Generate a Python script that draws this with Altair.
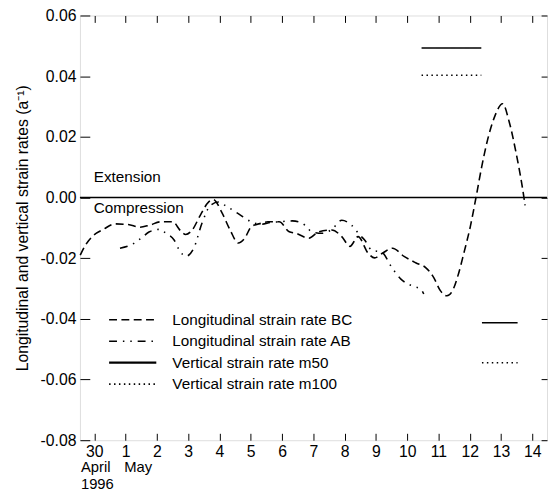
import altair as alt
import pandas as pd

# ---------------- data ----------------
series_names = [
    "Longitudinal strain rate BC",
    "Longitudinal strain rate AB",
    "Vertical strain rate m50",
    "Vertical strain rate m100",
]

# days after 30 April 1996 (0 = 30 April, 1 = 1 May, ...)
bc_day = [-0.45, -0.30, -0.05, 0.29, 0.66, 1.08, 1.45, 1.77, 2.13, 2.50, 2.76, 2.92,
          3.13, 3.39, 3.65, 3.81, 4.07, 4.34, 4.60, 4.81, 5.02, 5.33, 5.55, 5.91,
          6.23, 6.44, 6.86, 7.17, 7.59, 7.91, 8.17, 8.43, 8.75, 8.96, 9.22, 9.53,
          9.90, 10.27, 10.59, 10.85, 11.06, 11.27, 11.45, 11.63, 11.82, 12.02,
          12.20, 12.38, 12.57, 12.79, 13.05, 13.26, 13.47, 13.68, 13.77]
bc_val = [-0.0190, -0.0160, -0.0127, -0.0105, -0.0087, -0.0089, -0.0098, -0.0091,
          -0.0080, -0.0080, -0.0110, -0.0122, -0.0107, -0.0058, -0.0015, -0.0007,
          -0.0048, -0.0107, -0.0150, -0.0134, -0.0096, -0.0085, -0.0080, -0.0080,
          -0.0113, -0.0118, -0.0134, -0.0113, -0.0107, -0.0129, -0.0161, -0.0129,
          -0.0183, -0.0199, -0.0183, -0.0167, -0.0194, -0.0215, -0.0231, -0.0264,
          -0.0307, -0.0324, -0.0307, -0.0255, -0.0180, -0.0095, 0.0000, 0.0100,
          0.0190, 0.0265, 0.0309, 0.0250, 0.0153, 0.0035, -0.0026]

ab_day = [0.82, 1.18, 1.50, 1.76, 2.08, 2.29, 2.55, 2.71, 2.92, 3.18, 3.44, 3.71,
          3.97, 4.18, 4.60, 5.02, 5.33, 5.65, 5.91, 6.33, 6.65, 6.96, 7.28, 7.59,
          7.91, 8.22, 8.48, 8.64, 8.85, 9.21, 9.48, 9.80, 10.15, 10.43, 10.53]
ab_val = [-0.0167, -0.0156, -0.0134, -0.0113, -0.0105, -0.0118, -0.0140, -0.0172,
          -0.0194, -0.0167, -0.0085, -0.0026, -0.0015, -0.0026, -0.0053, -0.0080,
          -0.0088, -0.0082, -0.0080, -0.0077, -0.0085, -0.0113, -0.0118, -0.0105,
          -0.0075, -0.0091, -0.0123, -0.0140, -0.0172, -0.0182, -0.0226, -0.0269,
          -0.0291, -0.0302, -0.0318]

m50_day = [10.46, 12.37, 12.39, 13.53]
m50_val = [0.0493, 0.0493, -0.0413, -0.0413]
m50_seg = [1, 1, 2, 2]

m100_day = [10.46, 12.37, 12.39, 13.53]
m100_val = [0.0403, 0.0403, -0.0545, -0.0545]
m100_seg = [1, 1, 2, 2]

day_ticks = [0, 1, 2, 3, 4, 5, 6, 7, 8, 9, 10, 11, 12, 13, 14]
y_ticks = [-0.08, -0.07, -0.06, -0.05, -0.04, -0.03, -0.02, -0.01, 0.0,
           0.01, 0.02, 0.03, 0.04, 0.05, 0.06]

# ---------------- table ----------------
rows = []
for d, v in zip(bc_day, bc_val):
    rows.append({"series": series_names[0], "seg": "bc", "day": d, "value": v})
for d, v in zip(ab_day, ab_val):
    rows.append({"series": series_names[1], "seg": "ab", "day": d, "value": v})
for d, v, s in zip(m50_day, m50_val, m50_seg):
    rows.append({"series": series_names[2], "seg": f"m50_{s}", "day": d, "value": v})
for d, v, s in zip(m100_day, m100_val, m100_seg):
    rows.append({"series": series_names[3], "seg": f"m100_{s}", "day": d, "value": v})
df = pd.DataFrame(rows)

# ---------------- styling ----------------
W, H = 474, 431
FONT = "Liberation Sans"
dash_range = [[8, 4.5], [8, 6, 1.5, 6, 1.5, 6], [1, 0], [1.5, 3.5]]
width_range = [1.6, 1.5, 2.2, 1.8]

odd_test = "abs(round(datum.value*100)) % 2 == 1"

x_axis = alt.Axis(
    values=day_ticks, ticks=False, tickSize=0, domain=False,
    labelExpr="datum.value == 0 ? '30' : datum.label",
    labelFont=FONT, labelFontSize=16, labelColor="black", labelPadding=4,
    labelFlush=False,
    grid=True, gridColor="black", gridOpacity=1, gridWidth=1,
    gridDash=[7, H - 14, 7, 3000],
    title=None,
)

y_axis = alt.Axis(
    values=y_ticks, ticks=False, tickSize=0, domain=False,
    labelExpr=f"{odd_test} ? '' : replace(format(datum.value, '.2f'), '\u2212', '-')",
    labelFont=FONT, labelFontSize=16, labelColor="black", labelPadding=4,
    grid=True, gridColor="black", gridOpacity=1, gridWidth=1,
    gridDash={"condition": {"test": odd_test, "value": [5, W - 11, 6, 3000]},
              "value": [10, W - 16, 6, 3000]},
    title="Longitudinal and vertical strain rates (a\u207b\u00b9)",
    titleFont=FONT, titleFontSize=16, titleFontWeight="normal", titleColor="black",
    titleX=-50, titleY=H / 2,
)

lines = alt.Chart(df).mark_line(interpolate="monotone", color="black").encode(
    x=alt.X("day:Q", scale=alt.Scale(domain=[-0.46, 14.47], nice=False, zero=False), axis=x_axis),
    y=alt.Y("value:Q", scale=alt.Scale(domain=[-0.08, 0.06], nice=False, zero=False), axis=y_axis),
    strokeDash=alt.StrokeDash("series:N", scale=alt.Scale(domain=series_names, range=dash_range), legend=None),
    strokeWidth=alt.StrokeWidth("series:N", scale=alt.Scale(domain=series_names, range=width_range), legend=None),
    detail="seg:N",
)

zero_rule = alt.Chart(pd.DataFrame({"v": [0.0]})).mark_rule(color="black", strokeWidth=1.5).encode(
    y="v:Q"
)


def label(txt, x, y, baseline="middle", size=15.5):
    return alt.Chart(pd.DataFrame({"t": [txt]})).mark_text(
        align="left", baseline=baseline, font=FONT, fontSize=size, color="black"
    ).encode(text="t:N", x=alt.value(x), y=alt.value(y))


# legend (drawn by hand, lower left of the plot)
legend_layers = []
for i, name in enumerate(series_names):
    ly = 308.7 + 21.8 * i
    legend_layers.append(
        alt.Chart(pd.DataFrame({"s": [name]})).mark_rule(color="black").encode(
            x=alt.value(29.6), x2=alt.value(77.5), y=alt.value(ly),
            strokeDash=alt.value(dash_range[i]), strokeWidth=alt.value(width_range[i]),
        )
    )
    legend_layers.append(label(name, 93.8, ly))

chart = alt.layer(
    zero_rule,
    lines,
    label("Extension", 14, 164),
    label("Compression", 14, 195),
    label("April", 1, 463, "alphabetic", 15),
    label("May", 45, 463, "alphabetic", 15),
    label("1996", 1, 481, "alphabetic", 15),
    *legend_layers,
).properties(
    width=W, height=H,
    padding={"left": 73, "top": 4, "right": 1, "bottom": 52},
    autosize=alt.AutoSizeParams(type="none"),
).configure_view(
    stroke="black", strokeWidth=1.2
).configure(background="white")

chart.save("out.html", embed_options={"renderer": "svg", "actions": False})
